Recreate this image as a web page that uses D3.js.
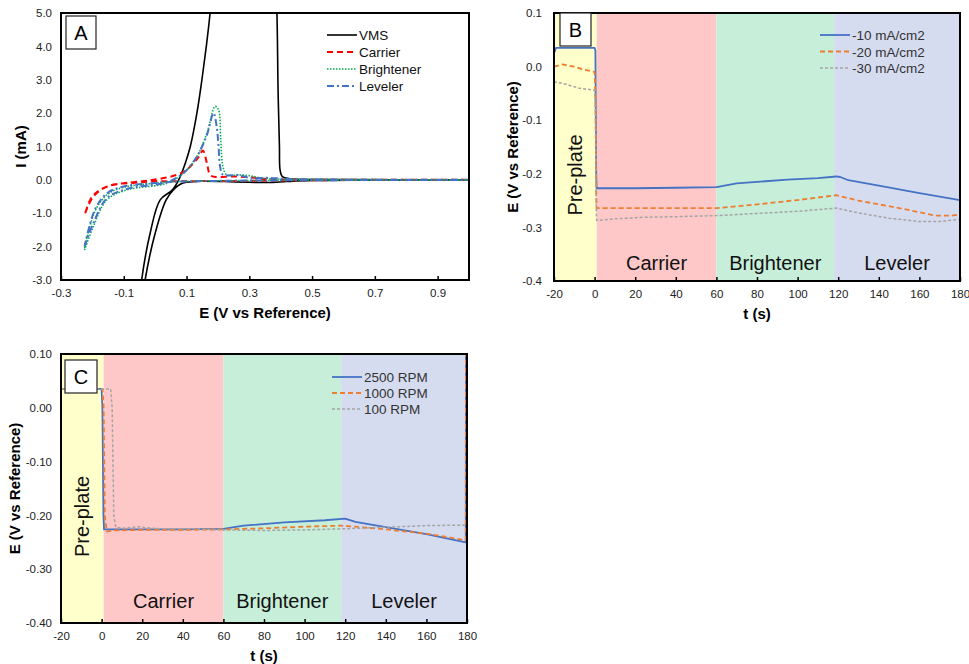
<!DOCTYPE html>
<html lang="en">
<head>
<meta charset="utf-8">
<script src="https://d3js.org/d3.v7.min.js"></script>
<style>
  body { margin: 0; background: #fff; }
  text { font-family: "Liberation Sans", Arial, sans-serif; }
</style>
</head>
<body>
<script type="text/javascript">

// ---- panel A : cyclic voltammograms, [E (V), I (mA)] ----
var vmsCurve = [[1.0,0.0],[0.7,0.0],[0.5,-0.02],[0.42,-0.05],[0.36,-0.08],[0.3,-0.07],[0.22,-0.05],[0.15,-0.04],
  [0.1,-0.07],[0.08,-0.13],[0.06,-0.28],[0.035,-0.6],[0.0,-1.6],[-0.032,-3.0],[-0.036,-3.3],[-0.046,-3.3],
  [-0.043,-3.0],[-0.016,-1.6],[0.016,-0.6],[0.055,-0.3],[0.075,0.0],[0.096,0.5],[0.112,1.0],[0.133,2.0],
  [0.149,3.0],[0.163,4.0],[0.175,5.0],[0.18,5.6],[0.385,5.6],[0.388,5.0],[0.392,2.5],[0.396,1.0],[0.398,0.3],
  [0.405,0.1],[0.43,0.03],[0.55,0.01],[1.0,0.0]];
var carrierCurve = [[-0.223,-1.0],[-0.197,-0.5],[-0.154,-0.2],[-0.101,-0.1],[-0.02,-0.02],[0.069,0.15],[0.1,0.3],
  [0.122,0.5],[0.14,0.7],[0.152,0.88],[0.165,0.5],[0.175,0.15],[0.19,0.09],[0.25,0.1],[0.3,0.08],[0.35,0.03],
  [0.45,0.01],[1.0,0.0],[0.5,-0.01],[0.3,-0.03],[0.1,-0.04],[-0.016,-0.05],[-0.07,-0.09],[-0.122,-0.13],
  [-0.165,-0.25],[-0.19,-0.4],[-0.207,-0.6],[-0.223,-1.0]];
var brightenerCurve = [[-0.225,-2.1],[-0.197,-1.4],[-0.154,-0.6],[-0.09,-0.3],[0.037,-0.1],[0.09,0.2],[0.133,0.7],
  [0.165,1.4],[0.191,2.2],[0.202,2.1],[0.209,1.2],[0.216,0.4],[0.228,0.15],[0.27,0.15],[0.303,0.12],[0.345,0.05],
  [0.45,0.02],[1.0,0.0],[0.5,-0.01],[0.2,-0.03],[0.05,-0.06],[0.0,-0.1],[-0.1,-0.22],[-0.15,-0.42],[-0.19,-0.9],
  [-0.225,-2.05]];
var levelerCurve = [[-0.225,-2.0],[-0.197,-1.3],[-0.154,-0.55],[-0.09,-0.27],[0.037,-0.07],[0.09,0.2],[0.133,0.7],
  [0.165,1.35],[0.186,2.0],[0.196,1.6],[0.202,1.0],[0.207,0.4],[0.215,0.16],[0.27,0.14],[0.3,0.06],[0.36,0.06],
  [0.45,0.02],[1.0,0.0],[0.5,-0.01],[0.2,-0.03],[0.05,-0.06],[0.0,-0.09],[-0.1,-0.2],[-0.15,-0.38],[-0.19,-0.85],
  [-0.225,-2.0]];

var cvNames = ["VMS", "Carrier", "Brightener", "Leveler"];
var eTicksA = [-0.3, -0.1, 0.1, 0.3, 0.5, 0.7, 0.9];
var iTicksA = [-3, -2, -1, 0, 1, 2, 3, 4, 5];

// ---- shared : plating steps ----
var stepNames = ["Pre-plate", "Carrier", "Brightener", "Leveler"];
var stepStartsB = [-20, 1, 60, 118];
var stepStartsC = [-20, 1, 60, 118];
var stepEnd = 180;
var tTicks = [-20, 0, 20, 40, 60, 80, 100, 120, 140, 160, 180];
var eTicksBC = [-0.4, -0.3, -0.2, -0.1, 0.0, 0.1];

// ---- panel B : current density, [t (s), E (V)] ----
var densNames = ["-10 mA/cm2", "-20 mA/cm2", "-30 mA/cm2"];
var dens10 = [[-20,0.025],[-19,0.035],[0,0.035],[0.4,0.03],[0.8,-0.2],[1,-0.227],[20,-0.227],[40,-0.226],
  [60,-0.225],[70,-0.218],[80,-0.215],[95,-0.211],[110,-0.208],[119,-0.205],[121,-0.206],[125,-0.212],
  [140,-0.222],[160,-0.236],[180,-0.249]];
var dens20 = [[-20,0.0],[-16,0.004],[-10,0.0],[-5,-0.006],[0,-0.01],[0.4,-0.05],[0.8,-0.24],[1,-0.264],[20,-0.264],
  [40,-0.264],[60,-0.264],[80,-0.257],[100,-0.249],[119,-0.24],[130,-0.25],[150,-0.264],[168,-0.278],
  [176,-0.278],[180,-0.276]];
var dens30 = [[-20,-0.028],[-14,-0.033],[-8,-0.04],[0,-0.044],[0.4,-0.08],[0.8,-0.26],[1,-0.287],[10,-0.284],
  [25,-0.281],[40,-0.28],[60,-0.278],[80,-0.274],[100,-0.27],[119,-0.264],[130,-0.273],[145,-0.283],
  [160,-0.289],[170,-0.289],[180,-0.285]];

// ---- panel C : rotation rate, [t (s), E (V)] ----
var rpmNames = ["2500 RPM", "1000 RPM", "100 RPM"];
var rpm2500 = [[-20,0.035],[0,0.035],[0.4,0.0],[0.9,-0.2],[1.2,-0.226],[20,-0.226],[40,-0.226],[60,-0.225],
  [70,-0.219],[90,-0.213],[110,-0.209],[120,-0.206],[125,-0.212],[140,-0.222],[160,-0.235],[179.4,-0.25],
  [179.5,0.2]];
var rpm1000 = [[-20,0.035],[0.5,0.035],[1,0.0],[1.6,-0.2],[2.5,-0.23],[5,-0.228],[20,-0.227],[40,-0.227],
  [60,-0.226],[80,-0.224],[100,-0.221],[118,-0.219],[125,-0.221],[140,-0.226],[160,-0.234],[179.4,-0.246],
  [179.5,0.2]];
var rpm100 = [[-20,0.035],[4.5,0.035],[5.2,0.0],[6,-0.2],[7,-0.222],[10,-0.224],[15,-0.222],[18,-0.221],
  [22,-0.223],[30,-0.225],[45,-0.225],[60,-0.227],[80,-0.228],[100,-0.227],[118,-0.225],[140,-0.222],
  [160,-0.219],[180,-0.218]];

var bandColors = ["#ffffcc", "#ffc8c8", "#c6eed9", "#d6dcf0"];

var svg = d3.select("body").append("svg")
  .attr("width", 969)
  .attr("height", 664);

function fmt(n) { return function(d) { return d.toFixed(n); }; }

// scales + clip for one plot area
function makePanel(o) {
  var g = svg.append("g");
  var x = d3.scaleLinear().domain(o.xDomain).range([o.left, o.right]);
  var y = d3.scaleLinear().domain(o.yDomain).range([o.bottom, o.top]);
  g.append("clipPath").attr("id", o.id)
    .append("rect").attr("x", o.left).attr("y", o.top)
    .attr("width", o.right - o.left).attr("height", o.bottom - o.top);
  return {g: g, x: x, y: y, o: o};
}

// frame, ticks, titles, letter box
function finishPanel(p) {
  var o = p.o, g = p.g;
  var xAxis = g.append("g").attr("transform", "translate(0," + o.bottom + ")")
    .call(d3.axisBottom(p.x).tickValues(o.xTicks).tickSizeInner(-4).tickSizeOuter(0).tickPadding(9).tickFormat(o.xFormat));
  var yAxis = g.append("g").attr("transform", "translate(" + o.left + ",0)")
    .call(d3.axisLeft(p.y).tickValues(o.yTicks).tickSizeInner(0).tickSizeOuter(0).tickPadding(o.yPad).tickFormat(o.yFormat));
  [xAxis, yAxis].forEach(function(a) {
    a.select(".domain").remove();
    a.selectAll("text").attr("font-size", 11.5).attr("fill", "#222")
      .style("font-family", "Liberation Sans, Arial, sans-serif");
    a.selectAll("line").attr("stroke", "#000").attr("stroke-width", 1.5);
  });
  g.append("rect").attr("x", o.left).attr("y", o.top)
    .attr("width", o.right - o.left).attr("height", o.bottom - o.top)
    .attr("fill", "none").attr("stroke", "#000").attr("stroke-width", 2);

  g.append("text").attr("x", (o.left + o.right) / 2).attr("y", o.bottom + 38)
    .attr("text-anchor", "middle").attr("font-size", 15).attr("font-weight", "bold").text(o.xTitle);
  g.append("text").attr("transform", "translate(" + o.yTitleX + "," + ((o.top + o.bottom) / 2) + ") rotate(-90)")
    .attr("text-anchor", "middle").attr("font-size", 15).attr("font-weight", "bold").text(o.yTitle);

  g.append("rect").attr("x", o.box[0]).attr("y", o.box[1]).attr("width", o.box[2]).attr("height", o.box[3])
    .attr("fill", "#fff").attr("stroke", "#222").attr("stroke-width", 1.2);
  g.append("text").attr("x", o.box[0] + o.box[2] / 2).attr("y", o.box[1] + o.box[3] / 2 + 7)
    .attr("text-anchor", "middle").attr("font-size", 20).text(o.letter);
}

function drawSeries(p, data, st, curve) {
  p.g.append("path").datum(data)
    .attr("clip-path", "url(#" + p.o.id + ")")
    .attr("d", d3.line().curve(curve || d3.curveLinear)
      .x(function(d) { return p.x(d[0]); }).y(function(d) { return p.y(d[1]); }))
    .attr("fill", "none").attr("stroke", st.color).attr("stroke-width", st.width)
    .attr("stroke-dasharray", st.dash).attr("stroke-linejoin", "round");
}

function drawLegend(p, names, styles, lx, ly, dy, textColor) {
  names.forEach(function(n, i) {
    var yy = ly + i * dy;
    p.g.append("line").attr("x1", lx).attr("x2", lx + 30).attr("y1", yy).attr("y2", yy)
      .attr("stroke", styles[i].color).attr("stroke-width", styles[i].width).attr("stroke-dasharray", styles[i].dash);
    p.g.append("text").attr("x", lx + 32).attr("y", yy + 5).attr("font-size", 13.5)
      .attr("fill", textColor).text(n);
  });
}

function drawBands(p, starts, labelY) {
  starts.forEach(function(s, i) {
    var e = i < starts.length - 1 ? starts[i + 1] : stepEnd;
    p.g.append("rect").attr("x", p.x(s)).attr("y", p.o.top)
      .attr("width", p.x(e) - p.x(s)).attr("height", p.o.bottom - p.o.top)
      .attr("fill", bandColors[i]);
    if (i === 0) {
      p.g.append("text")
        .attr("transform", "translate(" + ((p.x(s) + p.x(e)) / 2 + 7) + "," + ((p.o.top + p.o.bottom) / 2 + 28) + ") rotate(-90)")
        .attr("text-anchor", "middle").attr("font-size", 20).attr("fill", "#111").text(stepNames[i]);
    } else {
      p.g.append("text").attr("x", (p.x(s) + p.x(e)) / 2).attr("y", labelY)
        .attr("text-anchor", "middle").attr("font-size", 20).attr("fill", "#111").text(stepNames[i]);
    }
  });
}

// ---------- Panel A ----------
var cvStyles = [
  {color: "#000", width: 1.6, dash: null},
  {color: "#ff0000", width: 2, dash: "6,4"},
  {color: "#00b050", width: 1.6, dash: "1.5,1.5"},
  {color: "#4472c4", width: 2, dash: "7,3,2,3"}
];
var pA = makePanel({id: "clipA", left: 61, right: 469, top: 13, bottom: 280,
  xDomain: [-0.3, 1.0], yDomain: [-3, 5]});
[vmsCurve, carrierCurve, brightenerCurve, levelerCurve].forEach(function(d, i) {
  drawSeries(pA, d, cvStyles[i], d3.curveCatmullRom.alpha(0.5));
});
drawLegend(pA, cvNames, cvStyles, 327, 35, 17, "#111");
pA.o.xTicks = eTicksA; pA.o.yTicks = iTicksA; pA.o.xFormat = fmt(1); pA.o.yFormat = fmt(1); pA.o.yPad = 9;
pA.o.xTitle = "E (V vs Reference)"; pA.o.yTitle = "I (mA)"; pA.o.yTitleX = 26;
pA.o.box = [66, 16, 30, 33]; pA.o.letter = "A";
finishPanel(pA);

// ---------- Panel B ----------
var tStyles = [
  {color: "#4472c4", width: 1.8, dash: null},
  {color: "#ed7d31", width: 1.8, dash: "5,3"},
  {color: "#a5a5a5", width: 1.5, dash: "3,2"}
];
var pB = makePanel({id: "clipB", left: 554, right: 960, top: 13, bottom: 281,
  xDomain: [-20, 180], yDomain: [-0.4, 0.1]});
drawBands(pB, stepStartsB, 270);
[dens10, dens20, dens30].forEach(function(d, i) { drawSeries(pB, d, tStyles[i]); });
drawLegend(pB, densNames, tStyles, 820, 35, 16.5, "#333");
pB.o.xTicks = tTicks; pB.o.yTicks = eTicksBC; pB.o.xFormat = fmt(0); pB.o.yFormat = fmt(1); pB.o.yPad = 12;
pB.o.xTitle = "t (s)"; pB.o.yTitle = "E (V vs Reference)"; pB.o.yTitleX = 518;
pB.o.box = [560, 13, 31, 33]; pB.o.letter = "B";
finishPanel(pB);

// ---------- Panel C ----------
var pC = makePanel({id: "clipC", left: 61, right: 467, top: 354, bottom: 623,
  xDomain: [-20, 180], yDomain: [-0.4, 0.1]});
drawBands(pC, stepStartsC, 608);
[rpm2500, rpm1000, rpm100].forEach(function(d, i) { drawSeries(pC, d, tStyles[i]); });
drawLegend(pC, rpmNames, tStyles, 332, 377, 16, "#333");
pC.o.xTicks = tTicks; pC.o.yTicks = eTicksBC; pC.o.xFormat = fmt(0); pC.o.yFormat = fmt(2); pC.o.yPad = 9;
pC.o.xTitle = "t (s)"; pC.o.yTitle = "E (V vs Reference)"; pC.o.yTitleX = 20;
pC.o.box = [65, 360, 32, 33]; pC.o.letter = "C";
finishPanel(pC);

</script>
</body>
</html>
